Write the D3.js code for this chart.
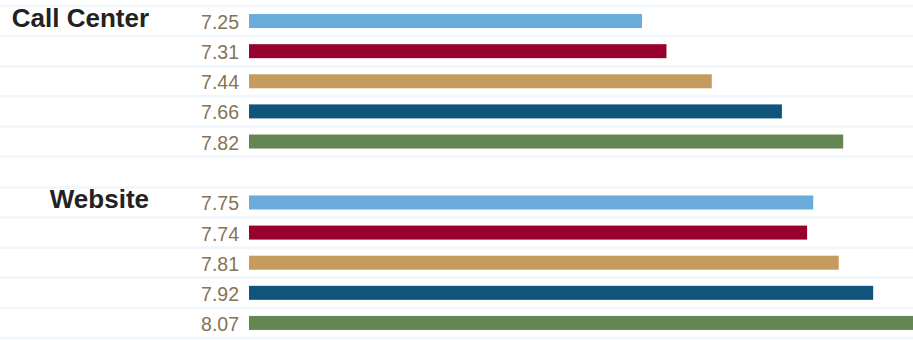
<!DOCTYPE html>
<html>
<head>
<meta charset="utf-8">
<script src="https://cdn.jsdelivr.net/npm/d3@7"></script>
<style>
  html, body { margin: 0; padding: 0; background: #fff; }
  svg { display: block; }
</style>
</head>
<body>
<svg width="913" height="340"></svg>
<script>
// channel groups, one bar per segment in each
var groups = ["Call Center", "Website"],
    segments = ["s1", "s2", "s3", "s4", "s5"],
    colors = ["#6aabdc", "#98002e", "#c59b5e", "#10547b", "#658652"];

// scores as printed next to the bars
var callCenterLabels = ["7.25", "7.31", "7.44", "7.66", "7.82"],
    websiteLabels = ["7.75", "7.74", "7.81", "7.92", "8.07"];

// bar lengths (the printed scores are rounded)
var callCenterValues = [7.244, 7.316, 7.449, 7.655, 7.835],
    websiteValues = [7.747, 7.729, 7.822, 7.923, 8.07];

var rows = [
  { group: "Call Center", labels: callCenterLabels, values: callCenterValues },
  { group: "Website", labels: websiteLabels, values: websiteValues }
];

var svg = d3.select("svg"),
    width = +svg.attr("width"),
    height = +svg.attr("height"),
    barLeft = 249;

var x = d3.scaleLinear().domain([6.09, 8.04]).range([barLeft, width]);

var yGroup = d3.scaleBand().domain(groups).range([6, 338]).paddingInner(0.17);

var yRow = d3.scaleBand().domain(segments).range([0, yGroup.bandwidth()])
    .paddingInner(0.535).paddingOuter(0.2675);

var color = d3.scaleOrdinal().domain(segments).range(colors);

var g = svg.selectAll("g.group")
    .data(rows)
  .enter().append("g")
    .attr("class", "group")
    .attr("transform", function(d) { return "translate(0," + yGroup(d.group) + ")"; });

// light row separators
g.selectAll("line.grid")
    .data(d3.range(segments.length + 1))
  .enter().append("line")
    .attr("class", "grid")
    .attr("x1", 0)
    .attr("x2", width)
    .attr("y1", function(i) { return i * yRow.step(); })
    .attr("y2", function(i) { return i * yRow.step(); })
    .attr("stroke", "#eff6fc")
    .attr("stroke-width", 2.5);

g.selectAll("rect.bar")
    .data(function(d) { return d.values.map(function(v, i) { return { seg: segments[i], v: v }; }); })
  .enter().append("rect")
    .attr("class", "bar")
    .attr("x", x.range()[0])
    .attr("y", function(d) { return yRow(d.seg); })
    .attr("width", function(d) { return x(d.v) - x.range()[0]; })
    .attr("height", yRow.bandwidth())
    .attr("fill", function(d) { return color(d.seg); });

g.selectAll("text.score")
    .data(function(d) { return d.labels.map(function(t, i) { return { seg: segments[i], t: t }; }); })
  .enter().append("text")
    .attr("class", "score")
    .attr("x", barLeft - 10)
    .attr("y", function(d) { return yRow(d.seg) + yRow.bandwidth() / 2 + 8; })
    .attr("text-anchor", "end")
    .attr("font-family", "'Liberation Sans', Arial, sans-serif")
    .attr("font-size", 19.5)
    .attr("fill", "#857353")
    .text(function(d) { return d.t; });

g.append("text")
    .attr("class", "title")
    .attr("x", 149)
    .attr("y", yRow(segments[0]) + yRow.bandwidth() / 2 + 5.5)
    .attr("text-anchor", "end")
    .attr("font-family", "'Liberation Sans', Arial, sans-serif")
    .attr("font-weight", "bold")
    .attr("font-size", 26)
    .attr("fill", "#222")
    .text(function(d) { return d.group; });
</script>
</body>
</html>
